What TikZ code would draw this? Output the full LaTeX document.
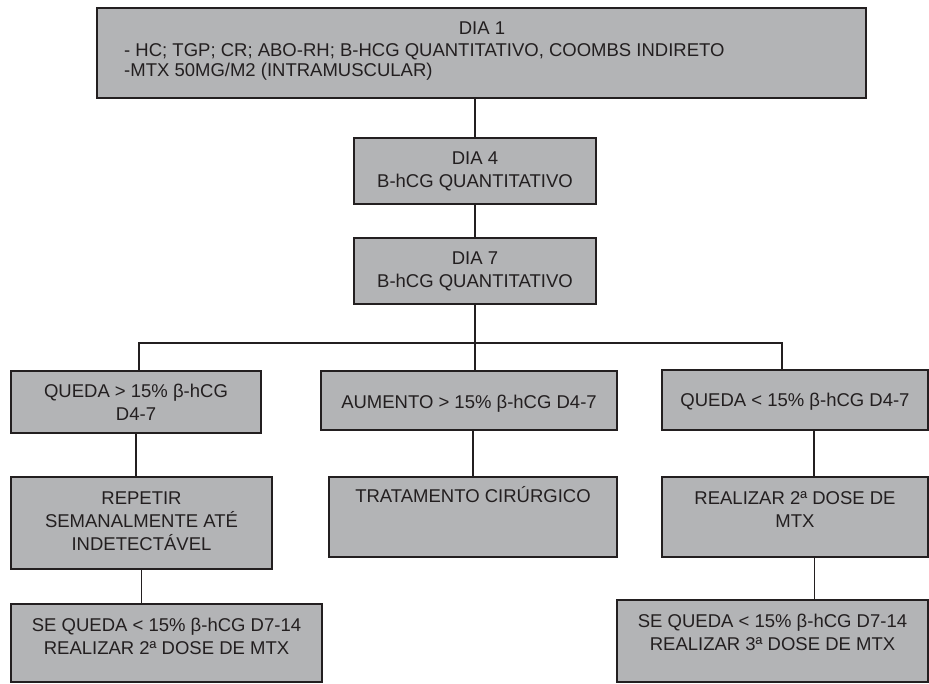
\documentclass[tikz,border=0pt]{standalone}
\usepackage{fontspec}
\setmainfont{Liberation Sans}
\definecolor{boxgray}{HTML}{B3B4B6}
\definecolor{ink}{HTML}{231F20}
\tikzset{
  box/.style={draw=ink,fill=boxgray,line width=1.6pt,inner sep=0pt},
  txt/.style={text=ink,align=center,inner sep=0pt,font=\fontsize{18.5}{23}\selectfont},
  link/.style={draw=ink,line width=1.3pt}
}

\begin{document}
\begin{tikzpicture}[x=1pt,y=-1pt]
\fill[white] (0,0) rectangle (929,684);
\useasboundingbox (0,0) rectangle (929,684);
% boxes
\node[box,minimum width=769,minimum height=90] (D1) at (481.5,53) {};
\node[box,minimum width=242,minimum height=66] (D4) at (475,171) {};
\node[box,minimum width=242,minimum height=66] (D7) at (475,271) {};
\node[box,minimum width=250,minimum height=62] (Qa) at (136,402) {};
\node[box,minimum width=296,minimum height=59] (Au) at (469,400.5) {};
\node[box,minimum width=266,minimum height=60] (Qb) at (795,400) {};
\node[box,minimum width=261,minimum height=92] (Rp) at (141.5,523) {};
\node[box,minimum width=288,minimum height=80] (Tc) at (473,517) {};
\node[box,minimum width=266,minimum height=80] (R2) at (795,517) {};
\node[box,minimum width=311,minimum height=78] (S1) at (166.5,643) {};
\node[box,minimum width=311,minimum height=82] (S2) at (772.5,641) {};
% texts
\node[txt,anchor=base] (tD1) at (482,35) {DIA 1};
\node[txt,anchor=base west] (tD1b) at (124,57) {- HC; TGP; CR; ABO-RH; B-HCG QUANTITATIVO, COOMBS INDIRETO};
\node[txt,anchor=base west] (tD1c) at (124,77) {-MTX 50MG/M2 (INTRAMUSCULAR)};
\node[txt] (tD4) at (D4) {DIA 4\\B-hCG QUANTITATIVO};
\node[txt] (tD7) at (D7) {DIA 7\\B-hCG QUANTITATIVO};
\node[txt] (tQa) at (Qa) {QUEDA > 15\% β-hCG\\D4-7};
\node[txt] (tAu) at ([yshift=-3pt]Au) {AUMENTO > 15\% β-hCG D4-7};
\node[txt] (tQb) at ([yshift=-2pt]Qb) {QUEDA < 15\% β-hCG D4-7};
\node[txt] (tRp) at ([yshift=1.5pt]Rp) {REPETIR\\SEMANALMENTE ATÉ\\INDETECTÁVEL};
\node[txt] (tTc) at ([yshift=22pt]Tc) {TRATAMENTO CIRÚRGICO};
\node[txt] (tR2) at ([yshift=7pt]R2) {REALIZAR 2ª DOSE DE\\MTX};
\node[txt] (tS1) at ([yshift=7pt]S1) {SE QUEDA < 15\% β-hCG D7-14\\REALIZAR 2ª DOSE DE MTX};
\node[txt] (tS2) at ([yshift=9pt]S2) {SE QUEDA < 15\% β-hCG D7-14\\REALIZAR 3ª DOSE DE MTX};
% connectors
\coordinate (hl) at (139,343);
\coordinate (hr) at (782,343);
\coordinate (rx) at (814,0);
\draw[link] (D4.north) -- (D4.north |- D1.south);
\draw[link] (D4.south) -- (D7.north);
\draw[link] (D7.south) -- (D7.south |- Au.north);
\draw[link] (Qa.north -| hl) -- (hl) -- (hr) -- (hr |- Qb.north);
\draw[link] (Qa.south) -- (Qa.south |- Rp.north);
\draw[link,line width=0.9pt] (Rp.south) -- (Rp.south |- S1.north);
\draw[link] (Tc.north) -- (Tc.north |- Au.south);
\draw[link] (Qb.south -| rx) -- (R2.north -| rx);
\draw[link,line width=0.9pt] (R2.south -| rx) -- (S2.north -| rx);
\end{tikzpicture}
\end{document}
